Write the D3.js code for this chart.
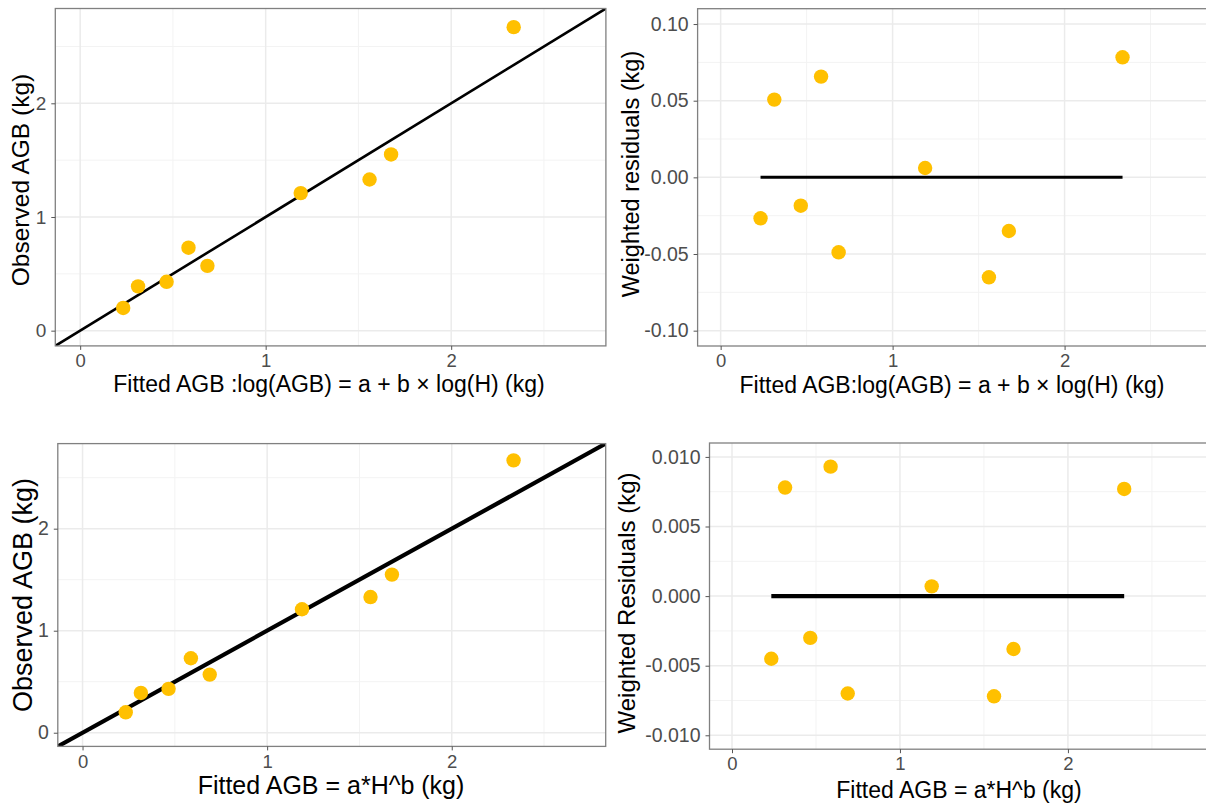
<!DOCTYPE html>
<html>
<head>
<meta charset="utf-8">
<script src="https://cdn.jsdelivr.net/npm/d3@7"></script>
<style>
  body { margin: 0; background: #fff; }
  text { font-family: "Liberation Sans", Arial, sans-serif; }
</style>
</head>
<body>
<script>
// values
var fittedLog = [0.232, 0.312, 0.466, 0.584, 0.686, 1.189, 1.560, 1.676, 2.337];
var fittedPow = [0.234, 0.316, 0.466, 0.587, 0.689, 1.189, 1.560, 1.676, 2.335];
var observed = [0.20, 0.39, 0.43, 0.73, 0.57, 1.21, 1.33, 1.55, 2.67];
var residLog = [-0.0267, 0.0507, -0.0185, 0.0657, -0.0489, 0.0061, -0.0652, -0.0350, 0.0783];
var residPow = [-0.0045, 0.0078, -0.0030, 0.0093, -0.0070, 0.0007, -0.0072, -0.0038, 0.0077];

var xTicks = [0, 1, 2];
var obsTicks = [0, 1, 2];
var residLogTicks = [-0.10, -0.05, 0.00, 0.05, 0.10];
var residPowTicks = [-0.010, -0.005, 0.000, 0.005, 0.010];

var svgWidth = 1206;
var svgHeight = 807;

var svg = d3.select("body")
  .append("svg")
  .attr("width", svgWidth)
  .attr("height", svgHeight);

var pointColor = "#FFC000";

// plain hyphen for negatives, like R does
var hyphen = d3.formatLocale({decimal: ".", thousands: ",", grouping: [3], currency: ["", ""], minus: "-"});

function panel(opt) {
  var width = opt.right - opt.left;
  var height = opt.bottom - opt.top;
  var g = svg.append("g").attr("transform", `translate(${opt.left}, ${opt.top})`);

  var x = d3.scaleLinear().domain(opt.xDomain).range([0, width]);
  var y = d3.scaleLinear().domain(opt.yDomain).range([height, 0]);

  var clipId = "clip" + opt.id;
  g.append("clipPath").attr("id", clipId)
    .append("rect").attr("width", width).attr("height", height);

  // minor grid
  g.selectAll(".xminor").data(opt.xMinor).enter().append("line")
    .attr("x1", d => x(d)).attr("x2", d => x(d))
    .attr("y1", 0).attr("y2", height)
    .attr("stroke", "#f3f3f3").attr("stroke-width", 1);
  g.selectAll(".yminor").data(opt.yMinor).enter().append("line")
    .attr("y1", d => y(d)).attr("y2", d => y(d))
    .attr("x1", 0).attr("x2", width)
    .attr("stroke", "#f3f3f3").attr("stroke-width", 1);
  // major grid
  g.selectAll(".xmajor").data(opt.xTicks).enter().append("line")
    .attr("x1", d => x(d)).attr("x2", d => x(d))
    .attr("y1", 0).attr("y2", height)
    .attr("stroke", "#ebebeb").attr("stroke-width", 1.5);
  g.selectAll(".ymajor").data(opt.yTicks).enter().append("line")
    .attr("y1", d => y(d)).attr("y2", d => y(d))
    .attr("x1", 0).attr("x2", width)
    .attr("stroke", "#ebebeb").attr("stroke-width", 1.5);

  var marks = g.append("g").attr("clip-path", `url(#${clipId})`);

  if (opt.kind === "obs") {
    // 1:1 line
    marks.append("line")
      .attr("x1", x(opt.xDomain[0])).attr("y1", y(opt.xDomain[0]))
      .attr("x2", x(opt.xDomain[1])).attr("y2", y(opt.xDomain[1]))
      .attr("stroke", "#000").attr("stroke-width", opt.lineWidth);
  } else {
    marks.append("line")
      .attr("x1", x(d3.min(opt.xs))).attr("x2", x(d3.max(opt.xs)))
      .attr("y1", y(0)).attr("y2", y(0))
      .attr("stroke", "#000").attr("stroke-width", opt.lineWidth);
  }

  marks.selectAll("circle").data(opt.xs).enter().append("circle")
    .attr("cx", d => x(d))
    .attr("cy", (d, i) => y(opt.ys[i]))
    .attr("r", 7.2)
    .attr("fill", pointColor);

  // border
  g.append("rect").attr("width", width).attr("height", height)
    .attr("fill", "none").attr("stroke", "#808080").attr("stroke-width", 1.3);

  // axes
  var bottomAxis = d3.axisBottom(x).tickValues(opt.xTicks).tickFormat(d3.format("d")).tickSizeOuter(0).tickSize(4).tickPadding(4);
  var leftAxis = d3.axisLeft(y).tickValues(opt.yTicks).tickFormat(opt.yFormat).tickSizeOuter(0).tickSize(4).tickPadding(5);

  var bx = g.append("g").attr("transform", `translate(0, ${height})`).call(bottomAxis);
  var ly = g.append("g").call(leftAxis);
  [bx, ly].forEach(function(a) {
    a.select(".domain").remove();
    a.selectAll(".tick line").attr("stroke", "#555");
    a.selectAll(".tick text").attr("fill", "#4d4d4d").style("font-size", opt.tickSize + "px")
      .style("font-family", "'Liberation Sans', Arial, sans-serif");
  });
  bx.selectAll(".tick text").style("font-size", opt.xTickSize + "px");

  svg.append("text")
    .attr("x", opt.xTitleX)
    .attr("y", opt.xTitleY)
    .attr("text-anchor", "middle")
    .style("font-size", opt.xTitleSize + "px")
    .attr("fill", "#000")
    .text(opt.xTitle);

  svg.append("text")
    .attr("transform", `translate(${opt.yTitleX}, ${opt.yTitleMid}) rotate(-90)`)
    .attr("text-anchor", "middle")
    .style("font-size", opt.yTitleSize + "px")
    .attr("fill", "#000")
    .text(opt.yTitle);
}

var xDom = [-0.134, 2.834];

panel({
  id: 1, kind: "obs", left: 55.3, top: 8.5, right: 605.9, bottom: 345.9,
  xDomain: xDom, yDomain: [-0.134, 2.834],
  xTicks: xTicks, yTicks: obsTicks, xMinor: [0.5, 1.5, 2.5], yMinor: [0.5, 1.5, 2.5],
  yFormat: d3.format("d"),
  xs: fittedLog, ys: observed, lineWidth: 2.6,
  tickSize: 19, xTickSize: 18.5, xTitleSize: 23, yTitleSize: 24.5,
  xTitle: "Fitted AGB :log(AGB) = a + b \u00d7 log(H) (kg)", xTitleX: 329, xTitleY: 392,
  yTitle: "Observed AGB (kg)", yTitleX: 29, yTitleMid: 180
});

panel({
  id: 2, kind: "res", left: 697.6, top: 8.7, right: 1208, bottom: 346,
  xDomain: xDom, yDomain: [-0.11, 0.11],
  xTicks: xTicks, yTicks: residLogTicks, xMinor: [0.5, 1.5, 2.5], yMinor: [-0.075, -0.025, 0.025, 0.075],
  yFormat: hyphen.format(".2f"),
  xs: fittedLog, ys: residLog, lineWidth: 3,
  tickSize: 19.5, xTickSize: 18.5, xTitleSize: 23, yTitleSize: 23.5,
  xTitle: "Fitted AGB:log(AGB) = a + b \u00d7 log(H) (kg)", xTitleX: 952, xTitleY: 393,
  yTitle: "Weighted residuals (kg)", yTitleX: 639, yTitleMid: 174
});

panel({
  id: 3, kind: "obs", left: 57.8, top: 443.6, right: 605.7, bottom: 746.4,
  xDomain: xDom, yDomain: [-0.134, 2.834],
  xTicks: xTicks, yTicks: obsTicks, xMinor: [0.5, 1.5, 2.5], yMinor: [0.5, 1.5, 2.5],
  yFormat: d3.format("d"),
  xs: fittedPow, ys: observed, lineWidth: 4.2,
  tickSize: 19.5, xTickSize: 18.5, xTitleSize: 25, yTitleSize: 27,
  xTitle: "Fitted AGB = a*H^b (kg)", xTitleX: 331, xTitleY: 794,
  yTitle: "Observed AGB (kg)", yTitleX: 32, yTitleMid: 595
});

panel({
  id: 4, kind: "res", left: 709.5, top: 443, right: 1208, bottom: 749.2,
  xDomain: xDom, yDomain: [-0.011, 0.011],
  xTicks: xTicks, yTicks: residPowTicks, xMinor: [0.5, 1.5, 2.5], yMinor: [-0.0075, -0.0025, 0.0025, 0.0075],
  yFormat: hyphen.format(".3f"),
  xs: fittedPow, ys: residPow, lineWidth: 4.2,
  tickSize: 19.5, xTickSize: 18.5, xTitleSize: 23, yTitleSize: 24,
  xTitle: "Fitted AGB = a*H^b (kg)", xTitleX: 959, xTitleY: 798,
  yTitle: "Weighted Residuals (kg)", yTitleX: 635, yTitleMid: 603
});
</script>
</body>
</html>
